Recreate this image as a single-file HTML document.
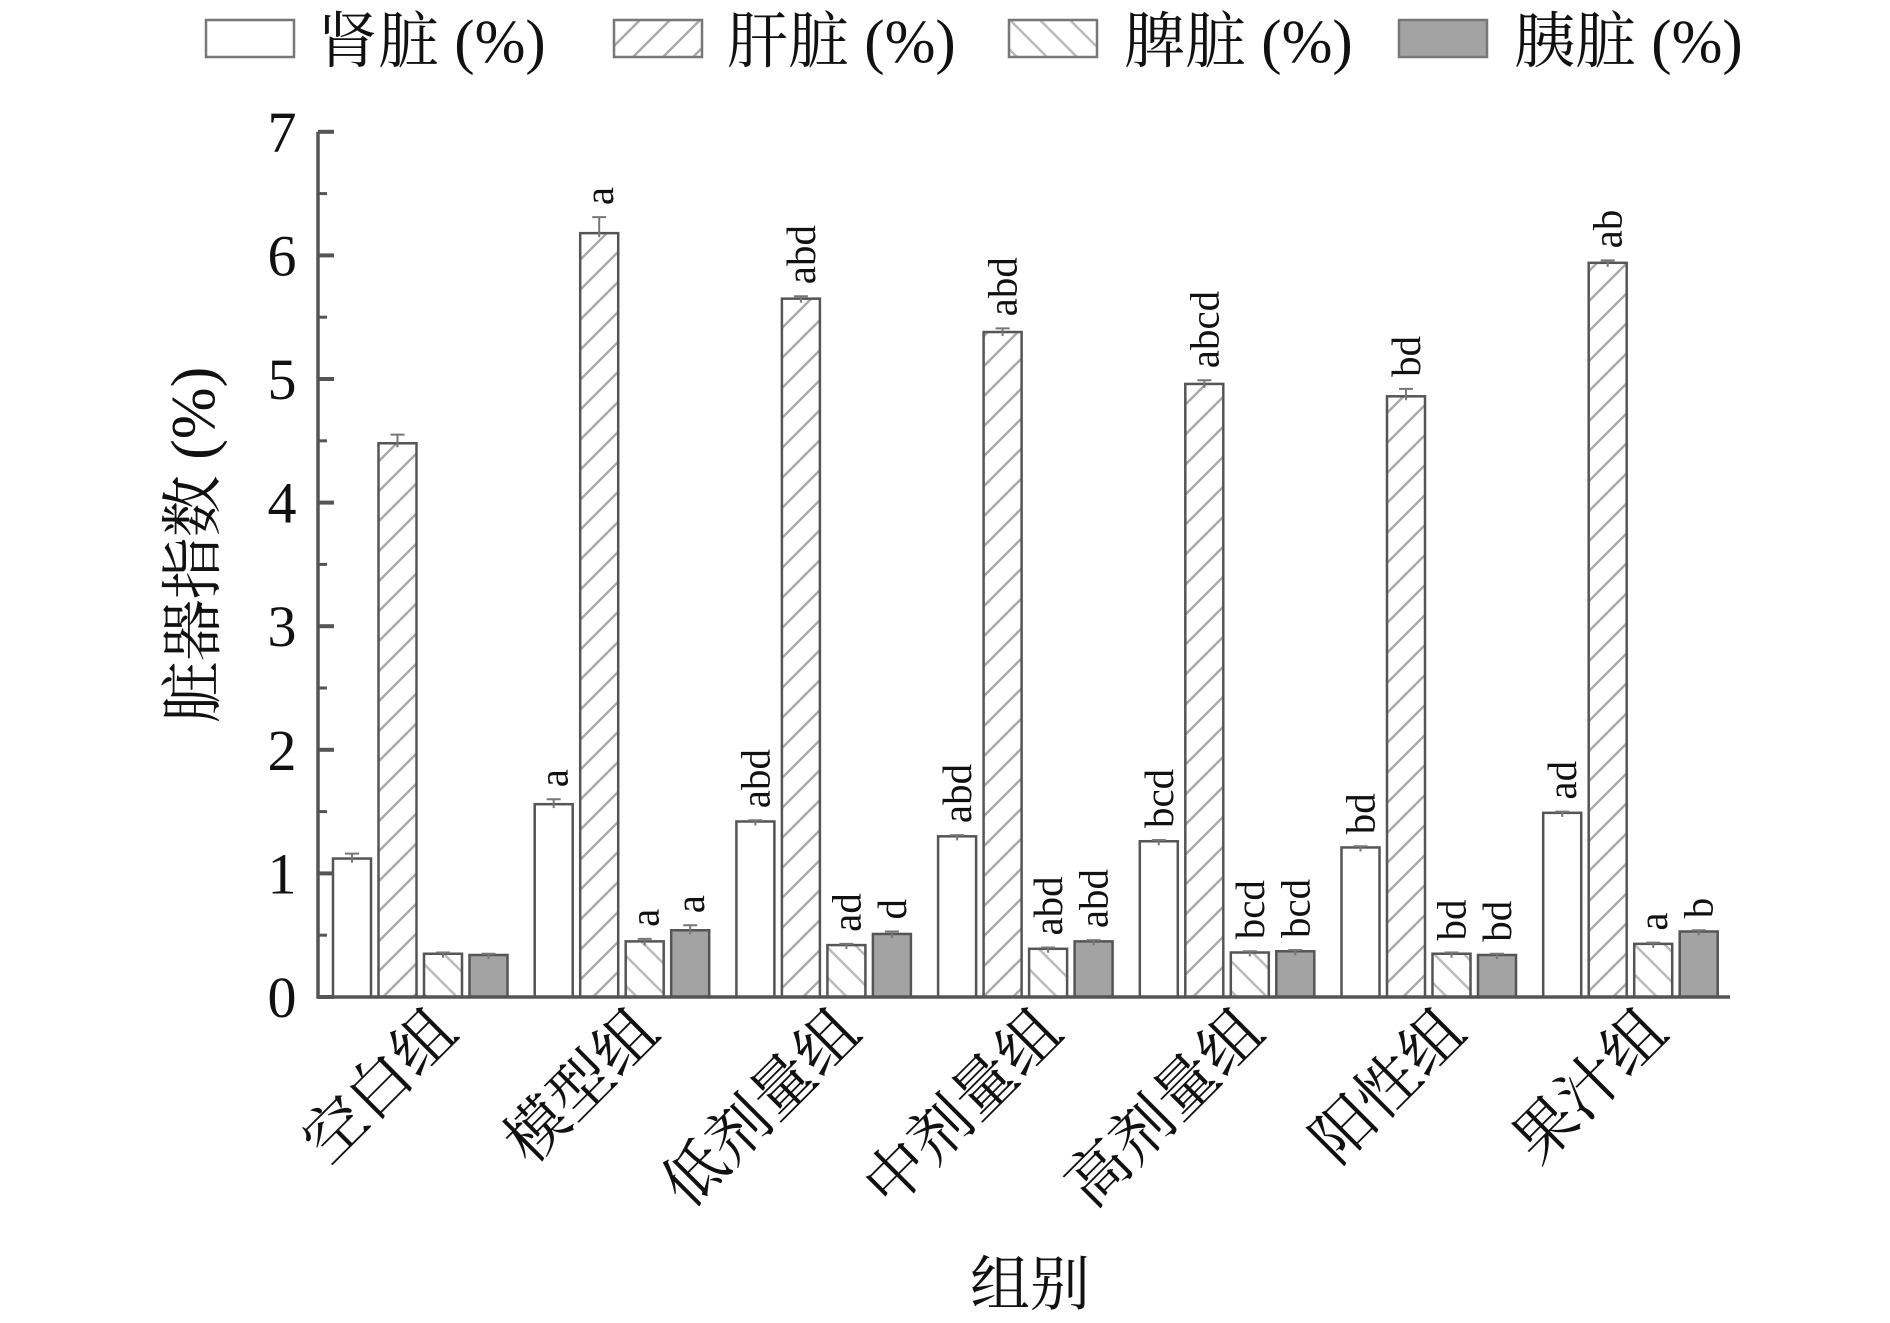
<!DOCTYPE html>
<html><head><meta charset="utf-8">
<style>
html,body{margin:0;padding:0;background:#fff;}
svg{display:block;}
text{font-family:"Liberation Serif","Noto Serif CJK SC","Noto Sans CJK SC",serif;fill:#111;}
</style></head>
<body>
<svg id="chart" width="1890" height="1323" viewBox="0 0 1890 1323" xmlns="http://www.w3.org/2000/svg">
<defs>
<pattern id="hatchF" patternUnits="userSpaceOnUse" width="30" height="30">
<path d="M-8,38 L38,-8 M-8,8 L8,-8 M22,38 L38,22" stroke="#aaa" stroke-width="2.5"/>
</pattern>
<pattern id="hatchB" patternUnits="userSpaceOnUse" width="30" height="30">
<path d="M-8,-8 L38,38 M22,-8 L38,8 M-8,22 L8,38" stroke="#bbb" stroke-width="2.5"/>
</pattern>
</defs>
<g id="legend"></g>
<g id="plot"></g>
</svg>
<script>
const categories = ["空白组","模型组","低剂量组","中剂量组","高剂量组","阳性组","果汁组"];
const seriesNames = ["肾脏 (%)","肝脏 (%)","脾脏 (%)","胰脏 (%)"];
const kidney = [1.12,1.56,1.42,1.30,1.26,1.21,1.49];
const liver = [4.48,6.18,5.65,5.38,4.96,4.86,5.94];
const spleen = [0.35,0.45,0.42,0.39,0.36,0.35,0.43];
const pancreas = [0.34,0.54,0.51,0.45,0.37,0.34,0.53];
const kidneyErr = [0.04,0.04,0.01,0.01,0.01,0.01,0.01];
const liverErr = [0.07,0.13,0.02,0.03,0.03,0.06,0.02];
const spleenErr = [0.01,0.02,0.01,0.01,0.01,0.01,0.01];
const pancreasErr = [0.01,0.04,0.02,0.01,0.01,0.01,0.01];
const kidneySig = ["","a","abd","abd","bcd","bd","ad"];
const liverSig = ["","a","abd","abd","abcd","bd","ab"];
const spleenSig = ["","a","ad","abd","bcd","bd","a"];
const pancreasSig = ["","a","d","abd","bcd","bd","b"];
const yTicks = [0,1,2,3,4,5,6,7];

const NS="http://www.w3.org/2000/svg";
const plot=document.getElementById('plot');
const legend=document.getElementById('legend');
function mk(tag,attrs,parent){const e=document.createElementNS(NS,tag);for(const k in attrs)e.setAttribute(k,attrs[k]);(parent||plot).appendChild(e);return e;}

const y0=997, yUnit=123.6;
const y=v=>y0-v*yUnit;
const groupStart=333, groupStep=201.7, barStep=45.5, barW=38;
const bx=(g,s)=>groupStart+g*groupStep+s*barStep;

const fills=["#fff","url(#hatchF)","url(#hatchB)","#a3a3a3"];
const series=[kidney,liver,spleen,pancreas];
const errs=[kidneyErr,liverErr,spleenErr,pancreasErr];
const sigs=[kidneySig,liverSig,spleenSig,pancreasSig];
const keys=["kidney","liver","spleen","pancreas"];

series.forEach((vals,s)=>{
  vals.forEach((v,g)=>{
    const x=bx(g,s);
    const r=mk('rect',{x:x,y:y(v),width:barW,height:y0-y(v),fill:fills[s],stroke:"#555","stroke-width":2.5});
    
    
    const cx=x+barW/2, e=errs[s][g];
    const eb=mk('path',{d:`M${cx},${y(v+e)}V${y(v)+4}M${cx-7},${y(v+e)}H${cx+7}`,stroke:"#777","stroke-width":2,fill:"none"});
    
    
    const lbl=sigs[s][g];
    if(lbl){
      const ty=y(v+e)-12;
      const t=mk('text',{x:0,y:0,"font-size":41,"text-anchor":"start",transform:`translate(${cx+14},${ty}) rotate(-90)`});
      t.textContent=lbl;
      
      
    }
  });
});

const ax=mk('path',{d:`M318,${y(7)}V${y0}H1730`,stroke:"#555","stroke-width":3.5,fill:"none"});


for(let i=0;i<14;i++){
  const v=i*0.5, major=i%2===0;
  const tk=mk('line',{x1:318,x2:318+(major?16:9),y1:y(v),y2:y(v),stroke:"#555","stroke-width":major?4:3});
  
  
}
mk('line',{x1:318,x2:334,y1:y(7),y2:y(7),stroke:"#555","stroke-width":4});
yTicks.forEach(v=>{
  const t=mk('text',{x:282,y:y(v)+20,"font-size":58,"text-anchor":"middle"});
  t.textContent=v;
  
  
});
const yt=mk('text',{x:0,y:0,"font-size":62,"text-anchor":"middle",transform:"translate(214,545) rotate(-90)"});
yt.textContent="脏器指数 (%)";



categories.forEach((c,g)=>{
  const cx=bx(g,1.5)+barW/2;
  const t=mk('text',{x:0,y:0,"font-size":62,"text-anchor":"end",transform:`translate(${cx+40},${1035}) rotate(-45)`});
  t.textContent=c;
  
  
});
const xt=mk('text',{x:1030,y:1305,"font-size":60,"text-anchor":"middle"});
xt.textContent="组别";



const boxX=[206,614,1009,1399], textX=[317,727,1124,1514];
seriesNames.forEach((n,s)=>{
  const r=mk('rect',{x:boxX[s],y:20,width:88,height:37,fill:fills[s],stroke:"#777","stroke-width":2.5},legend);
  
  
  const t=mk('text',{x:textX[s],y:62,"font-size":61},legend);
  t.textContent=n;
  
  
});
</script>
</body></html>
